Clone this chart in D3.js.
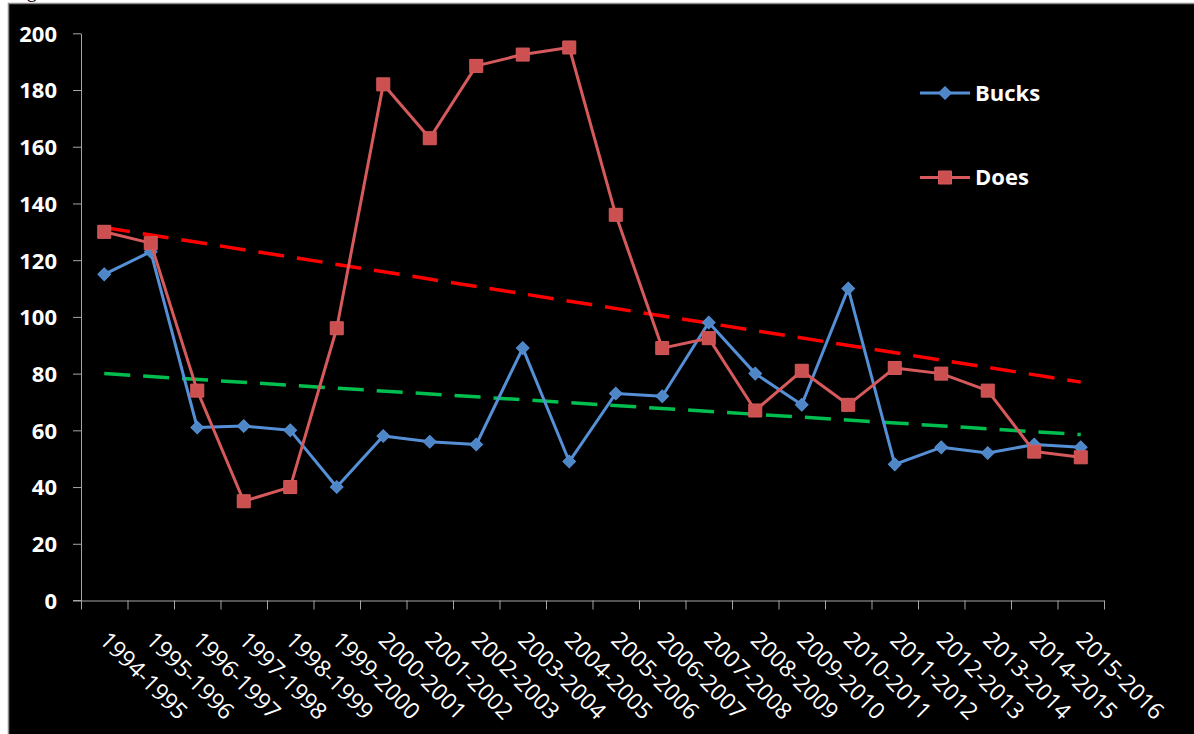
<!DOCTYPE html>
<html>
<head>
<meta charset="utf-8">
<script src="https://cdn.jsdelivr.net/npm/d3@7"></script>
<style>
  body { margin: 0; background: #fff; }
  svg { display: block; }
</style>
</head>
<body>
<svg id="vis"></svg>
<script>
// chart data
const seasons = ['1994-1995', '1995-1996', '1996-1997', '1997-1998', '1998-1999', '1999-2000',
  '2000-2001', '2001-2002', '2002-2003', '2003-2004', '2004-2005', '2005-2006', '2006-2007',
  '2007-2008', '2008-2009', '2009-2010', '2010-2011', '2011-2012', '2012-2013', '2013-2014',
  '2014-2015', '2015-2016']
const bucks = [115, 123, 61, 61.5, 60, 40, 58, 56, 55, 89, 49, 73, 72, 98, 80, 69, 110, 48, 54, 52, 55, 54]
const does = [130, 126, 74, 35, 40, 96, 182, 163, 188.5, 192.5, 195, 136, 89, 92.5, 67, 81, 69, 82, 80, 74, 52.5, 50.5]
// linear trendlines, value at first and last season
const doesTrend = [131.5, 77]
const bucksTrend = [80, 58.5]
const yTicks = [0, 20, 40, 60, 80, 100, 120, 140, 160, 180, 200]

// constants
const WIDTH = 1194
const HEIGHT = 734
const LEFT = 81
const RIGHT = 1104
const TOP = 33.3
const BOTTOM = 600.5
const BLUE_LINE = '#5590d6'
const BLUE_MARK = '#4f86c6'
const RED_LINE = '#d65a5c'
const RED_MARK = '#cc5050'
const AXIS_GRAY = '#a6a6a6'
const FONT = '"Open Sans", "DejaVu Sans", sans-serif'

var svg = d3.select('#vis')
    .attr('width', WIDTH)
    .attr('height', HEIGHT)

// chart area background with grey frame
svg.append('rect')
    .attr('x', 8)
    .attr('y', 3)
    .attr('width', WIDTH - 8)
    .attr('height', HEIGHT - 3)
    .attr('fill', '#000')
svg.append('path')
    .attr('d', `M8.5,${HEIGHT} V3.5 H${WIDTH}`)
    .attr('fill', 'none')
    .attr('stroke', '#8c8c8c')
    .attr('stroke-width', 1.5)

// cut off caption above the chart (only the descender shows)
svg.append('text')
    .attr('x', 10)
    .attr('y', -3)
    .attr('font-family', '"Liberation Serif", serif')
    .attr('font-size', 20)
    .attr('fill', '#000')
    .text('Figure')

// scales
var x = d3.scaleBand()
    .domain(seasons)
    .range([LEFT, RIGHT])
var xIdx = d3.scaleLinear()
    .domain([0, seasons.length])
    .range([LEFT, RIGHT])
var y = d3.scaleLinear()
    .domain([0, 200])
    .range([BOTTOM, TOP])
var cx = s => x(s) + x.bandwidth() / 2

// y axis
var yAxis = svg.append('g')
    .attr('transform', `translate(${LEFT},0)`)
    .call(d3.axisLeft(y).tickValues(yTicks).tickSize(8).tickSizeOuter(0).tickPadding(16))
yAxis.select('.domain').attr('stroke', AXIS_GRAY)
yAxis.selectAll('.tick line').attr('stroke', AXIS_GRAY)
yAxis.selectAll('.tick text')
    .attr('fill', '#fff')
    .attr('font-family', FONT)
    .attr('font-weight', 'bold')
    .attr('font-size', 22)
    .attr('dy', '0.36em')

// x axis, ticks between the categories
var xAxis = svg.append('g')
    .attr('transform', `translate(0,${BOTTOM})`)
    .call(d3.axisBottom(xIdx).tickValues(d3.range(0, seasons.length + 1)).tickSize(9).tickSizeOuter(0).tickFormat(''))
xAxis.select('.domain').attr('stroke', AXIS_GRAY)
xAxis.selectAll('.tick line').attr('stroke', AXIS_GRAY)
svg.append('line')
    .attr('x1', LEFT - 8)
    .attr('x2', LEFT)
    .attr('y1', BOTTOM)
    .attr('y2', BOTTOM)
    .attr('stroke', AXIS_GRAY)

// rotated season labels
svg.selectAll('.xlabel')
    .data(seasons)
    .enter()
    .append('text')
    .attr('class', 'xlabel')
    .attr('transform', d => `translate(${cx(d) - 6},${BOTTOM + 41}) rotate(45)`)
    .attr('fill', '#fff')
    .attr('font-family', FONT)
    .attr('font-size', 23)
    .text(d => d)

// trendlines
function trend(vals, color) {
    svg.append('line')
        .attr('x1', cx(seasons[0]))
        .attr('x2', cx(seasons[seasons.length - 1]))
        .attr('y1', y(vals[0]))
        .attr('y2', y(vals[1]))
        .attr('stroke', color)
        .attr('stroke-width', 3.5)
        .attr('stroke-dasharray', '26,13')
}
trend(doesTrend, '#ff0000')
trend(bucksTrend, '#00bf4f')

// series lines
var line = d3.line()
    .x((d, i) => cx(seasons[i]))
    .y(d => y(d))

function series(vals, lineColor, markColor, size, rot) {
    svg.append('path')
        .datum(vals)
        .attr('d', line)
        .attr('fill', 'none')
        .attr('stroke', lineColor)
        .attr('stroke-width', 3)
        .attr('stroke-linejoin', 'round')
    svg.selectAll(null)
        .data(vals)
        .enter()
        .append('path')
        .attr('d', d3.symbol().type(d3.symbolSquare).size(size))
        .attr('transform', (d, i) => `translate(${cx(seasons[i])},${y(d)}) rotate(${rot})`)
        .attr('fill', markColor)
        .attr('stroke', lineColor)
        .attr('stroke-width', 1)
}
series(bucks, BLUE_LINE, BLUE_MARK, 80, 45)
series(does, RED_LINE, RED_MARK, 169, 0)

// legend
function legendItem(yPos, label, lineColor, markColor, size, rot) {
    svg.append('line')
        .attr('x1', 920)
        .attr('x2', 970)
        .attr('y1', yPos)
        .attr('y2', yPos)
        .attr('stroke', lineColor)
        .attr('stroke-width', 3)
    svg.append('path')
        .attr('d', d3.symbol().type(d3.symbolSquare).size(size))
        .attr('transform', `translate(945,${yPos}) rotate(${rot})`)
        .attr('fill', markColor)
        .attr('stroke', lineColor)
    svg.append('text')
        .attr('x', 975)
        .attr('y', yPos)
        .attr('dy', '0.36em')
        .attr('fill', '#fff')
        .attr('font-family', FONT)
        .attr('font-weight', 'bold')
        .attr('font-size', 22)
        .text(label)
}
legendItem(93, 'Bucks', BLUE_LINE, BLUE_MARK, 80, 45)
legendItem(177.5, 'Does', RED_LINE, RED_MARK, 169, 0)
</script>
</body>
</html>
